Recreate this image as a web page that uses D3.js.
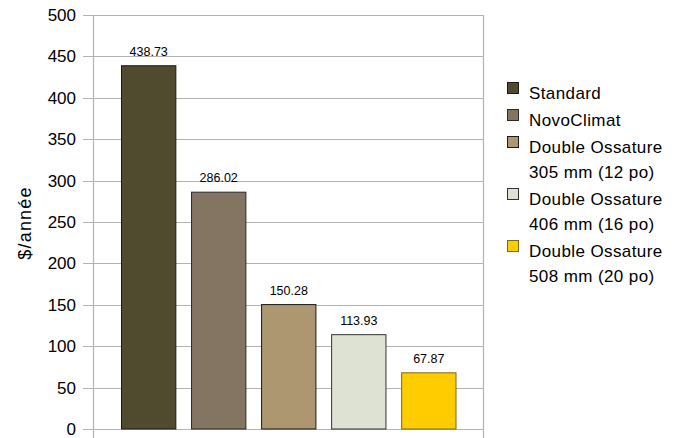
<!DOCTYPE html>
<html>
<head>
<meta charset="utf-8">
<script src="https://cdn.jsdelivr.net/npm/d3@7"></script>
<style>
  body { margin: 0; background: #fff; }
  text { font-family: "Liberation Sans", Arial, sans-serif; fill: #000; }
</style>
</head>
<body>
<div id="chart"></div>
<script>
var series = ['Standard', 'NovoClimat', 'Double Ossature 305 mm (12 po)', 'Double Ossature 406 mm (16 po)', 'Double Ossature 508 mm (20 po)'];
var legendLines = [['Standard'], ['NovoClimat'], ['Double Ossature', '305 mm (12 po)'], ['Double Ossature', '406 mm (16 po)'], ['Double Ossature', '508 mm (20 po)']];
var values = [438.73, 286.02, 150.28, 113.93, 67.87];
var yTicks = [0, 50, 100, 150, 200, 250, 300, 350, 400, 450, 500];
var colors = ['#504a2e', '#837561', '#ad9771', '#dee2d3', '#ffcc00'];
var strokes = ['#1a1a1a', '#2a2a2a', '#1a1a1a', '#333333', '#7a6a10'];

(function() {
  var width = 683, height = 438;
  var left = 93, right = 483, top = 15, bottom = 429;
  var grid = '#b3b3b3';

  var svg = d3.select('#chart').append('svg')
    .attr('width', width)
    .attr('height', height);

  var yScale = d3.scaleLinear().domain([0, 500]).range([bottom, top]);
  var xScale = d3.scaleBand()
    .domain(series)
    .range([left + 28.5, right - 27])
    .paddingInner(0.224)
    .paddingOuter(0);

  // gridlines + ticks
  svg.selectAll('line.grid')
    .data(yTicks)
    .enter().append('line')
    .attr('class', 'grid')
    .attr('x1', left - 10).attr('x2', right)
    .attr('y1', function(d) { return Math.round(yScale(d)) + 0.5; })
    .attr('y2', function(d) { return Math.round(yScale(d)) + 0.5; })
    .attr('stroke', grid).attr('stroke-width', 1.2);

  // vertical frame lines
  [left, right].forEach(function(x) {
    svg.append('line')
      .attr('x1', x + 0.5).attr('x2', x + 0.5)
      .attr('y1', top).attr('y2', bottom + 9)
      .attr('stroke', grid).attr('stroke-width', 1.2);
  });

  svg.selectAll('text.ytick')
    .data(yTicks)
    .enter().append('text')
    .attr('class', 'ytick')
    .attr('x', 76)
    .attr('y', function(d) { return yScale(d) + 6; })
    .attr('text-anchor', 'end')
    .style('font-size', '17px')
    .text(function(d) { return d; });

  svg.append('text')
    .attr('transform', 'translate(31,' + 223 + ') rotate(-90)')
    .attr('text-anchor', 'middle')
    .style('font-size', '18px')
    .style('letter-spacing', '1.2px')
    .text('$/année');

  // bars
  svg.selectAll('rect.bar')
    .data(values)
    .enter().append('rect')
    .attr('class', 'bar')
    .attr('x', function(d, i) { return xScale(series[i]); })
    .attr('y', function(d) { return yScale(d); })
    .attr('width', xScale.bandwidth())
    .attr('height', function(d) { return bottom - yScale(d); })
    .attr('fill', function(d, i) { return colors[i]; })
    .attr('stroke', function(d, i) { return strokes[i]; })
    .attr('stroke-width', 1);

  svg.selectAll('text.val')
    .data(values)
    .enter().append('text')
    .attr('class', 'val')
    .attr('x', function(d, i) { return xScale(series[i]) + xScale.bandwidth() / 2; })
    .attr('y', function(d) { return yScale(d) - 10; })
    .attr('text-anchor', 'middle')
    .style('font-size', '12.5px')
    .text(function(d) { return d.toFixed(2); });

  // legend
  var lg = svg.append('g');
  var baseY = 99;
  legendLines.forEach(function(lines, i) {
    lg.append('rect')
      .attr('x', 507.5).attr('y', baseY - 16.5)
      .attr('width', 11).attr('height', 11)
      .attr('fill', colors[i])
      .attr('stroke', strokes[i]);
    var t = lg.append('text')
      .attr('x', 529).attr('y', baseY)
      .style('font-size', '17px')
      .style('letter-spacing', '0.4px');
    lines.forEach(function(l, j) {
      t.append('tspan').attr('x', 529).attr('dy', j ? 25 : 0).text(l);
    });
    baseY += lines.length * 25 + 2;
  });
})();
</script>
</body>
</html>
